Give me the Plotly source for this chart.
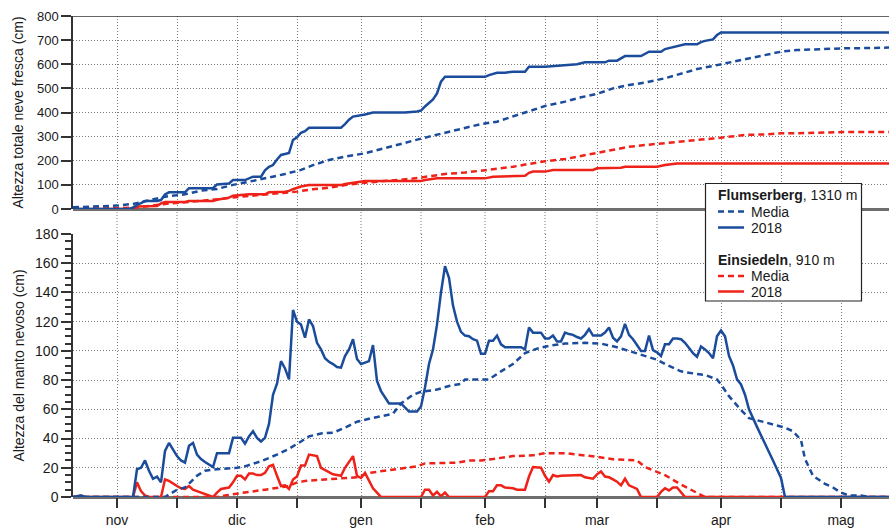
import pandas as pd
import plotly.graph_objects as go

# Origine dei giorni: 1 novembre 2017 (giorno 0)
INIZIO = pd.Timestamp("2017-11-01")
X_RANGE = ["2017-10-21", "2018-05-13"]

MESI = ["nov", "dic", "gen", "feb", "mar", "apr", "mag"]
MESI_DATE = ["2017-11", "2017-12", "2018-01", "2018-02", "2018-03", "2018-04", "2018-05"]

BLU = "#1b4c9c"
ROSSO = "#ee2218"

# ---------------- Altezza totale neve fresca (cm), cumulata ----------------
hn_flums_2018_giorni = [-11, 3, 4, 5, 6, 7, 10, 11, 12, 13, 17, 18, 24, 25, 28, 29, 32, 34, 36, 37, 38,
                        39, 40, 41, 42, 43, 44, 45, 46, 47, 48, 56, 57, 58, 59, 61, 62, 64, 72, 75, 76,
                        77, 78, 79, 80, 81, 82, 92, 93, 95, 97, 99, 102, 103, 107, 111, 115, 117, 122,
                        123, 125, 127, 131, 133, 136, 137, 140, 142, 145, 146, 147, 149, 150, 151, 193]
hn_flums_2018 = [0, 0, 5, 17, 24, 33, 33, 37, 60, 69, 69, 86, 86, 102, 106, 120, 120, 134, 134, 160, 175,
                 182, 205, 224, 228, 232, 286, 297, 316, 323, 337, 337, 352, 370, 383, 387, 392, 400, 400,
                 404, 408, 425, 440, 454, 479, 528, 548, 548, 555, 565, 565, 569, 569, 590, 590, 596, 600,
                 608, 608, 615, 615, 634, 634, 652, 652, 663, 676, 683, 683, 692, 697, 703, 721, 732, 732]

hn_flums_media_giorni = [-11, 0, 4, 8, 12, 17, 21, 25, 29, 33, 37, 42, 46, 49, 53, 57, 62, 66, 70, 74,
                         78, 82, 87, 91, 95, 99, 103, 107, 112, 116, 120, 124, 128, 132, 137, 141, 145,
                         149, 153, 157, 162, 166, 170, 174, 178, 182, 187, 193]
hn_flums_media = [7, 14, 21, 37, 51, 61, 76, 83, 100, 113, 127, 145, 162, 182, 203, 217, 231, 249, 268,
                  283, 300, 316, 334, 352, 362, 383, 406, 427, 445, 463, 477, 500, 514, 524, 542, 562,
                  580, 593, 607, 620, 636, 652, 659, 662, 663, 666, 667, 669]

hn_eins_2018_giorni = [-11, 3, 4, 5, 10, 11, 12, 17, 18, 24, 25, 26, 28, 29, 33, 37, 38, 42, 43, 44, 45,
                       46, 48, 56, 57, 59, 62, 76, 77, 80, 92, 94, 102, 103, 104, 107, 109, 119, 120,
                       126, 127, 135, 137, 140, 193]
hn_eins_2018 = [0, 0, 5, 10, 12, 23, 29, 29, 33, 33, 38, 41, 47, 55, 61, 61, 69, 72, 75, 82, 88, 93, 99,
                99, 104, 109, 116, 116, 120, 127, 127, 134, 138, 150, 155, 155, 162, 162, 169, 171, 175,
                175, 182, 189, 189]

hn_eins_media_giorni = [-11, 0, 4, 8, 12, 17, 21, 25, 29, 33, 37, 41, 45, 49, 53, 57, 62, 66, 70, 74, 78,
                        82, 87, 91, 95, 99, 103, 107, 112, 116, 120, 124, 128, 132, 137, 141, 145, 149,
                        153, 157, 162, 166, 170, 174, 178, 182, 193]
hn_eins_media = [0, 3, 5, 12, 21, 28, 33, 40, 48, 55, 62, 66, 72, 82, 88, 99, 109, 113, 120, 126, 134,
                 145, 151, 158, 166, 175, 187, 198, 207, 220, 233, 247, 258, 265, 272, 279, 286, 292,
                 300, 307, 309, 314, 314, 316, 318, 319, 319]

# ---------------- Altezza del manto nevoso (cm) ----------------
hs_flums_2018_giorni = [-11, -9, -8, 4, 5, 6, 7, 8, 9, 10, 11, 12, 13, 14, 15, 16, 17, 18, 19, 20, 21, 22,
                        23, 24, 25, 28, 29, 31, 32, 33, 34, 35, 36, 37, 38, 39, 40, 41, 42, 43, 44, 45,
                        46, 47, 48, 49, 50, 51, 52, 53, 54, 55, 56, 57, 58, 59, 60, 61, 62, 63, 64, 65,
                        66, 67, 68, 71, 72, 73, 75, 76, 77, 78, 79, 80, 81, 82, 83, 84, 85, 86, 87, 88,
                        89, 90, 91, 92, 93, 94, 95, 96, 97, 101, 102, 103, 104, 106, 107, 108, 109, 110,
                        111, 112, 113, 114, 115, 116, 117, 118, 119, 121, 122, 123, 124, 125, 126, 127,
                        128, 129, 130, 131, 132, 133, 134, 135, 136, 137, 138, 139, 140, 141, 142, 143,
                        144, 145, 146, 147, 148, 149, 150, 151, 152, 153, 154, 155, 156, 157, 158, 160,
                        162, 164, 166, 167, 193]
hs_flums_2018 = [0, 1, 0, 0, 19, 20, 25, 18, 12.5, 14, 10, 31.5, 37, 32, 28, 25, 23.5, 35, 37, 29, 26,
                 24, 22, 20.5, 30, 30, 40.5, 40.5, 36.5, 41.5, 45, 40.5, 38, 40.5, 50, 70, 77.5, 93, 88,
                 80.5, 128, 120, 118, 109, 121.5, 117, 105.5, 101, 95, 92.5, 91, 89, 88.5, 96.5, 101,
                 108, 94.5, 91, 92, 93, 104, 79.5, 72.5, 68.5, 64, 64, 61, 58.5, 58.5, 62, 75, 91, 101,
                 118, 140, 158, 150, 131, 120, 113, 110.5, 110, 108, 107, 98, 98, 107, 107, 110.5, 104.5,
                 102.5, 102.5, 101, 116, 112.5, 112.5, 108.5, 108.5, 110.5, 106.5, 106.5, 112.5, 111.5,
                 111, 109.5, 108.5, 111, 115, 110.5, 110.5, 112.5, 116, 109, 106.5, 110, 118.5, 111,
                 108, 104, 100, 100, 110.5, 100.5, 99, 96.5, 104.5, 104.5, 108.5, 108.5, 108, 105.5,
                 102, 98.5, 96, 103, 101, 98.5, 95, 110, 114, 110, 96.5, 90, 80.5, 77, 70, 60, 48, 37,
                 25, 13, 0, 0]

hs_flums_media_giorni = [-11, 12, 15, 17, 20, 22, 25, 30, 32, 36, 40, 43, 46, 48, 51, 54, 57, 60, 63, 67,
                         69, 71, 74, 76, 80, 83, 86, 87, 93, 96, 99, 102, 105, 108, 112, 117, 121, 125,
                         128, 132, 135, 137, 141, 143, 147, 150, 151, 153, 156, 158, 161, 164, 167, 169,
                         171, 172, 174, 177, 179, 181, 183, 186, 188, 193]
hs_flums_media = [0, 0, 5, 6.5, 14.5, 18, 19, 20, 21, 24.5, 29, 33, 38, 41.5, 43.5, 44, 47.5, 51.5, 53.5,
                  55.5, 57, 64, 70, 72, 73.5, 76, 77.5, 80.5, 80.5, 86, 91, 98.5, 101.5, 103.5, 105,
                  105.5, 105, 102.5, 100, 96.5, 94, 91, 86, 85, 83.5, 80.5, 77, 69, 59.5, 54, 52, 49.5,
                  47.5, 45, 39, 26, 14.5, 9, 6.5, 3, 1, 1, 0, 0]

hs_eins_2018_giorni = [-11, -9, -8, 4, 5, 6, 7, 8, 11, 12, 13, 14, 15, 16, 17, 18, 19, 20, 21, 22, 23, 24,
                       25, 26, 28, 29, 30, 31, 32, 33, 34, 35, 36, 37, 38, 39, 40, 41, 42, 43, 44, 45,
                       46, 47, 48, 49, 50, 51, 52, 53, 54, 55, 56, 57, 58, 59, 60, 61, 62, 63, 64, 65,
                       66, 76, 77, 78, 79, 80, 81, 82, 83, 92, 93, 94, 95, 96, 97, 99, 100, 102, 103,
                       104, 105, 106, 107, 108, 109, 110, 111, 116, 117, 118, 119, 120, 121, 122, 123,
                       124, 125, 126, 127, 128, 129, 130, 131, 135, 136, 137, 138, 139, 140, 141, 142, 193]
hs_eins_2018 = [0, 1, 0, 0, 10, 4, 1, 0, 0, 12, 11, 9, 7.5, 6, 5.5, 7.5, 5, 4, 3, 1.5, 0.5, 0, 3, 5.5,
                6.5, 10, 14.5, 14.5, 12, 16, 16, 15, 15, 16.5, 21, 22, 14.5, 7.5, 8, 5.5, 12, 14, 21.5,
                21.5, 29, 28.5, 28, 20, 18.5, 16.5, 15.5, 15, 14.5, 20, 24, 28, 14.5, 13, 16.5, 11, 6,
                3, 0, 0, 5, 5, 1, 3.5, 0.5, 3, 0, 0, 4, 4, 8, 8, 6.5, 6, 5, 5, 14, 20.5, 20.5, 20,
                14.5, 10.5, 15, 14, 14.5, 15, 13.5, 13, 12.5, 15.5, 17.5, 14, 13.5, 12, 10.5, 8, 12.5,
                8, 7, 5.5, 0, 0, 3.5, 6, 4.5, 6.5, 6.5, 3, 0, 0]

hs_eins_media_giorni = [-11, 25, 27, 30, 33, 37, 41, 43, 45, 47, 52, 56, 60, 63, 67, 71, 75, 77, 81, 85,
                        88, 91, 94, 99, 104, 107, 112, 116, 120, 124, 128, 130, 132, 137, 141, 144, 146,
                        147, 193]
hs_eins_media = [0, 0, 1, 2.5, 3.5, 5, 6.5, 7.5, 10, 11, 12, 13, 13.5, 16.5, 18, 19.5, 21, 23, 23.5,
                 23.5, 25, 25, 26, 28, 28.5, 30, 30, 29, 27.5, 25.8, 25, 25, 20.5, 15, 8.5, 4.5, 1.5,
                 0, 0]


def date(giorni):
    return INIZIO + pd.to_timedelta(giorni, unit="D")


# Tacche: il 1 e il 16 di ogni mese, etichetta solo sul primo
tick_vals, tick_text = [], []
for nome, ym in zip(MESI, MESI_DATE):
    tick_vals += [pd.Timestamp(ym + "-01"), pd.Timestamp(ym + "-16")]
    tick_text += [nome, ""]

DASH = "6px,4px"
GRID_DASH = "1px,2px"
GRID_COL = "#7a7a7a"
AX_COL = "#333333"
LW = 2.5

fig = go.Figure()


def linea(giorni, valori, colore, tratteggio, assi):
    fig.add_trace(go.Scatter(
        x=date(giorni), y=valori, mode="lines", xaxis=assi[0], yaxis=assi[1],
        line=dict(color=colore, width=LW, dash=tratteggio), hoverinfo="skip"))


# pannello superiore: neve fresca cumulata
linea(hn_eins_media_giorni, hn_eins_media, ROSSO, DASH, ("x2", "y2"))
linea(hn_eins_2018_giorni, hn_eins_2018, ROSSO, "solid", ("x2", "y2"))
linea(hn_flums_media_giorni, hn_flums_media, BLU, DASH, ("x2", "y2"))
linea(hn_flums_2018_giorni, hn_flums_2018, BLU, "solid", ("x2", "y2"))

# pannello inferiore: altezza del manto nevoso
linea(hs_eins_media_giorni, hs_eins_media, ROSSO, DASH, ("x", "y"))
linea(hs_eins_2018_giorni, hs_eins_2018, ROSSO, "solid", ("x", "y"))
linea(hs_flums_media_giorni, hs_flums_media, BLU, DASH, ("x", "y"))
linea(hs_flums_2018_giorni, hs_flums_2018, BLU, "solid", ("x", "y"))

# geometria in pixel della figura
W, H = 889, 528
ML, MR, MT, MB = 73, 0, 16, 31
PW, PH = W - ML - MR, H - MT - MB


def px(xp):
    return (xp - ML) / PW


def py(yp):
    return (H - MB - yp) / PH


D_TOP = py(209)   # bordo inferiore pannello superiore (0 cm)
D_BOT = py(234)   # bordo superiore pannello inferiore (180 cm)

FONT = "Liberation Sans, Arial, Helvetica, sans-serif"

comune_x = dict(type="date", range=X_RANGE, tickmode="array", tickvals=tick_vals,
                showgrid=True, gridcolor=GRID_COL, griddash=GRID_DASH, gridwidth=1,
                zeroline=False, showline=False, automargin=False)

fig.update_layout(
    width=W, height=H,
    margin=dict(l=ML, r=MR, t=MT, b=MB),
    paper_bgcolor="white", plot_bgcolor="white",
    showlegend=False,
    font=dict(family=FONT, size=14, color="#1a1a1a"),
    xaxis=dict(comune_x, domain=[0, 1], anchor="y", ticktext=tick_text,
               ticks="outside", ticklen=10, tickwidth=1.5, tickcolor=AX_COL,
               tickfont=dict(size=14)),
    xaxis2=dict(comune_x, domain=[0, 1], anchor="y2", matches="x",
                showticklabels=False, ticks=""),
    yaxis=dict(domain=[0, D_BOT], range=[0, 180], tickmode="linear", tick0=0, dtick=20,
               ticks="outside", ticklen=10, tickwidth=1.5, tickcolor=AX_COL,
               minor=dict(tick0=0, dtick=5, ticks="outside", ticklen=6, tickwidth=1.5,
                          tickcolor=AX_COL, showgrid=False),
               showline=True, linecolor=AX_COL, linewidth=1.5,
               showgrid=True, gridcolor=GRID_COL, griddash=GRID_DASH, gridwidth=1,
               zeroline=True, zerolinecolor="#6e6e6e", zerolinewidth=2.5,
               tickfont=dict(size=14), automargin=False),
    yaxis2=dict(domain=[D_TOP, 1], range=[0, 800], tickmode="linear", tick0=0, dtick=100,
                ticks="outside", ticklen=10, tickwidth=1.5, tickcolor=AX_COL,
                showline=True, linecolor=AX_COL, linewidth=1.5,
                showgrid=True, gridcolor=GRID_COL, griddash=GRID_DASH, gridwidth=1,
                zeroline=True, zerolinecolor="#6e6e6e", zerolinewidth=2.5,
                tickfont=dict(size=13), automargin=False),
)

shapes = []
# griglia verticale anche nello spazio fra i due pannelli
for t in tick_vals:
    shapes.append(dict(type="line", xref="x", yref="paper", x0=t, x1=t, y0=D_BOT, y1=D_TOP,
                       line=dict(color=GRID_COL, width=1, dash=GRID_DASH), layer="below"))
# bordo superiore del pannello superiore
shapes.append(dict(type="line", xref="paper", yref="y2", x0=0, x1=1, y0=800, y1=800,
                   line=dict(color=AX_COL, width=1.5)))

# legenda
shapes.append(dict(type="rect", xref="paper", yref="paper", x0=px(705.5), x1=px(861.5),
                   y0=py(301), y1=py(183.5), line=dict(color="#222", width=1.2),
                   fillcolor="white", layer="above"))
voci = [
    (BLU, DASH, 211.5, "Media"),
    (BLU, "solid", 227.5, "2018"),
    (ROSSO, DASH, 276, "Media"),
    (ROSSO, "solid", 291.5, "2018"),
]
annotations = []
for colore, tratto, yp, testo in voci:
    shapes.append(dict(type="line", xref="paper", yref="paper", x0=px(718), x1=px(744),
                       y0=py(yp), y1=py(yp), line=dict(color=colore, width=LW, dash=tratto),
                       layer="above"))
    annotations.append(dict(xref="paper", yref="paper", x=px(749), y=py(yp), text=testo,
                            showarrow=False, xanchor="left", yanchor="middle",
                            font=dict(size=14)))
for yp, testo in [(195, "<b>Flumserberg</b>, 1310 m"), (259.5, "<b>Einsiedeln</b>, 910 m")]:
    annotations.append(dict(xref="paper", yref="paper", x=px(716), y=py(yp), text=testo,
                            showarrow=False, xanchor="left", yanchor="middle",
                            font=dict(size=14)))

# titoli degli assi y
for yc, testo in [((16 + 209) / 2, "Altezza totale neve fresca (cm)"),
                  ((234 + 497) / 2, "Altezza del manto nevoso (cm)")]:
    annotations.append(dict(xref="paper", yref="paper", x=px(18), y=py(yc), text=testo,
                            textangle=-90, showarrow=False, xanchor="center", yanchor="middle",
                            font=dict(size=14)))

fig.update_layout(shapes=shapes, annotations=annotations)
fig.write_html("out.html")
